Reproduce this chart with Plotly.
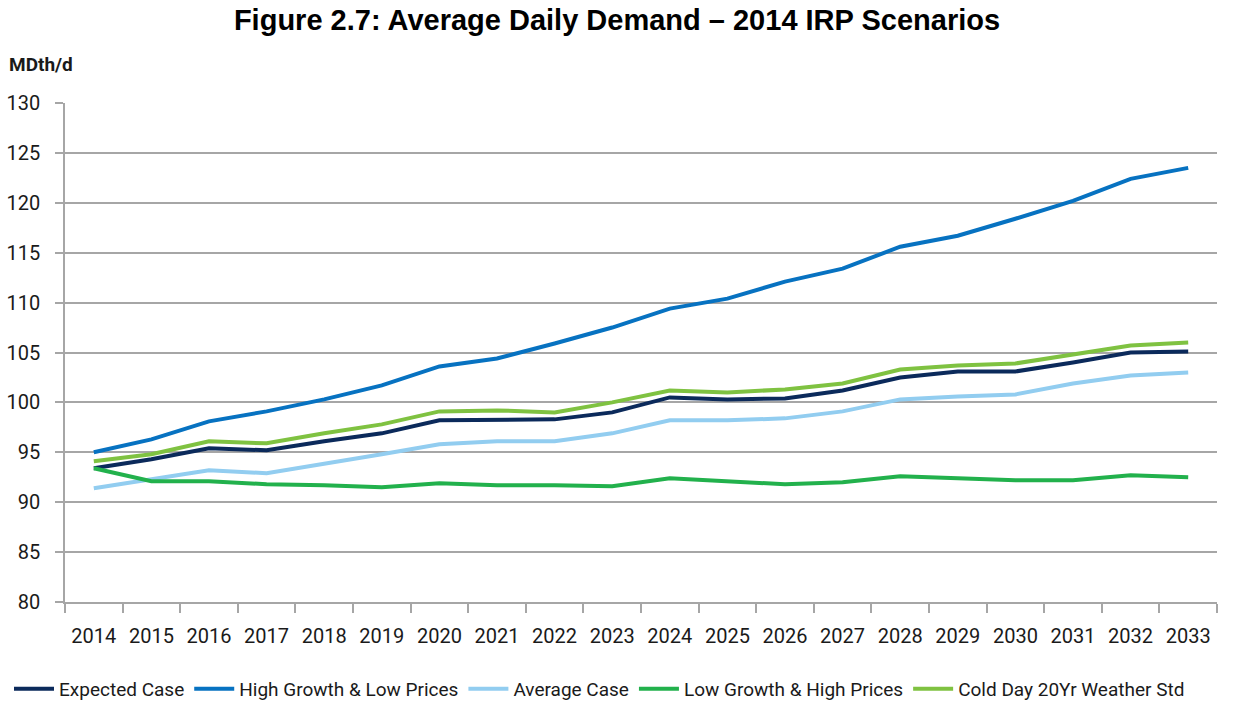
import plotly.graph_objects as go

years = [str(y) for y in range(2014, 2034)]

expected_case = [93.4, 94.3, 95.4, 95.2, 96.1, 96.9, 98.2, 98.3, 98.3, 99.0,
                 100.5, 100.3, 100.4, 101.2, 102.5, 103.1, 103.1, 104.0, 105.0, 105.1]
high_growth = [95.0, 96.3, 98.1, 99.1, 100.3, 101.7, 103.6, 104.4, 105.9, 107.5,
               109.4, 110.4, 112.1, 113.4, 115.6, 116.7, 118.4, 120.2, 122.4, 123.5]
average_case = [91.4, 92.3, 93.2, 92.9, 93.8, 94.8, 95.8, 96.1, 96.1, 96.9,
                98.2, 98.2, 98.4, 99.1, 100.3, 100.6, 100.8, 101.9, 102.7, 103.0]
low_growth = [93.4, 92.1, 92.1, 91.8, 91.7, 91.5, 91.9, 91.7, 91.7, 91.6,
              92.4, 92.1, 91.8, 92.0, 92.6, 92.4, 92.2, 92.2, 92.7, 92.5]
cold_day = [94.1, 94.8, 96.1, 95.9, 96.9, 97.8, 99.1, 99.2, 99.0, 100.0,
            101.2, 101.0, 101.3, 101.9, 103.3, 103.7, 103.9, 104.8, 105.7, 106.0]

series = [
    ("Expected Case", expected_case, "#0b2a5b"),
    ("High Growth & Low Prices", high_growth, "#0772c1"),
    ("Average Case", average_case, "#92cdf0"),
    ("Low Growth & High Prices", low_growth, "#22b14c"),
    ("Cold Day 20Yr Weather Std", cold_day, "#7fc241"),
]

y_ticks = list(range(80, 131, 5))

fig = go.Figure()
for name, vals, color in series:
    fig.add_trace(go.Scatter(x=years, y=vals, name=name, mode="lines",
                             line=dict(color=color, width=4)))

font_tick = "Roboto, Liberation Sans, sans-serif"

fig.update_layout(
    width=1234, height=704,
    margin=dict(l=65, r=17, t=103, b=102, autoexpand=False),
    paper_bgcolor="white", plot_bgcolor="white",
    title=dict(text="<b>Figure 2.7: Average Daily Demand – 2014 IRP Scenarios</b>",
               x=0.5, xref="container", xanchor="center",
               y=1 - 20 / 704, yref="container", yanchor="middle",
               font=dict(family="Liberation Sans, Arial, sans-serif", size=29, color="black")),
    showlegend=True,
    legend=dict(orientation="h", xref="paper", yref="paper",
                x=-56 / 1152, xanchor="left", y=-87 / 499, yanchor="middle",
                font=dict(family=font_tick, size=19, color="#1a1a1a"),
                itemwidth=40, tracegroupgap=0, traceorder="normal"),
    xaxis=dict(type="category", range=[-0.5, 19.5], tickson="boundaries",
               automargin=False, tickangle=0,
               showline=True, linecolor="#a6a6a6", linewidth=1.5,
               ticks="outside", ticklen=9, tickcolor="#a6a6a6", tickwidth=1.5,
               showgrid=False, ticklabelstandoff=15,
               tickfont=dict(family=font_tick, size=20, color="#1a1a1a")),
    yaxis=dict(range=[80, 130], tickvals=y_ticks, showline=True, automargin=False,
               linecolor="#a6a6a6", linewidth=1.5,
               ticks="outside", ticklen=8, tickcolor="#a6a6a6", tickwidth=1.5,
               showgrid=True, gridcolor="#a6a6a6", gridwidth=1.5, zeroline=False,
               ticklabelstandoff=11,
               tickfont=dict(family=font_tick, size=20, color="#1a1a1a")),
    annotations=[dict(text="<b>MDth/d</b>", xref="paper", yref="paper",
                      x=0, y=1, xanchor="left", yanchor="middle",
                      xshift=-58, yshift=39, showarrow=False,
                      font=dict(family=font_tick, size=19, color="#1a1a1a"))],
)

fig.write_html("out.html", config={"displayModeBar": False},
               post_script="document.body.style.margin='0';")
